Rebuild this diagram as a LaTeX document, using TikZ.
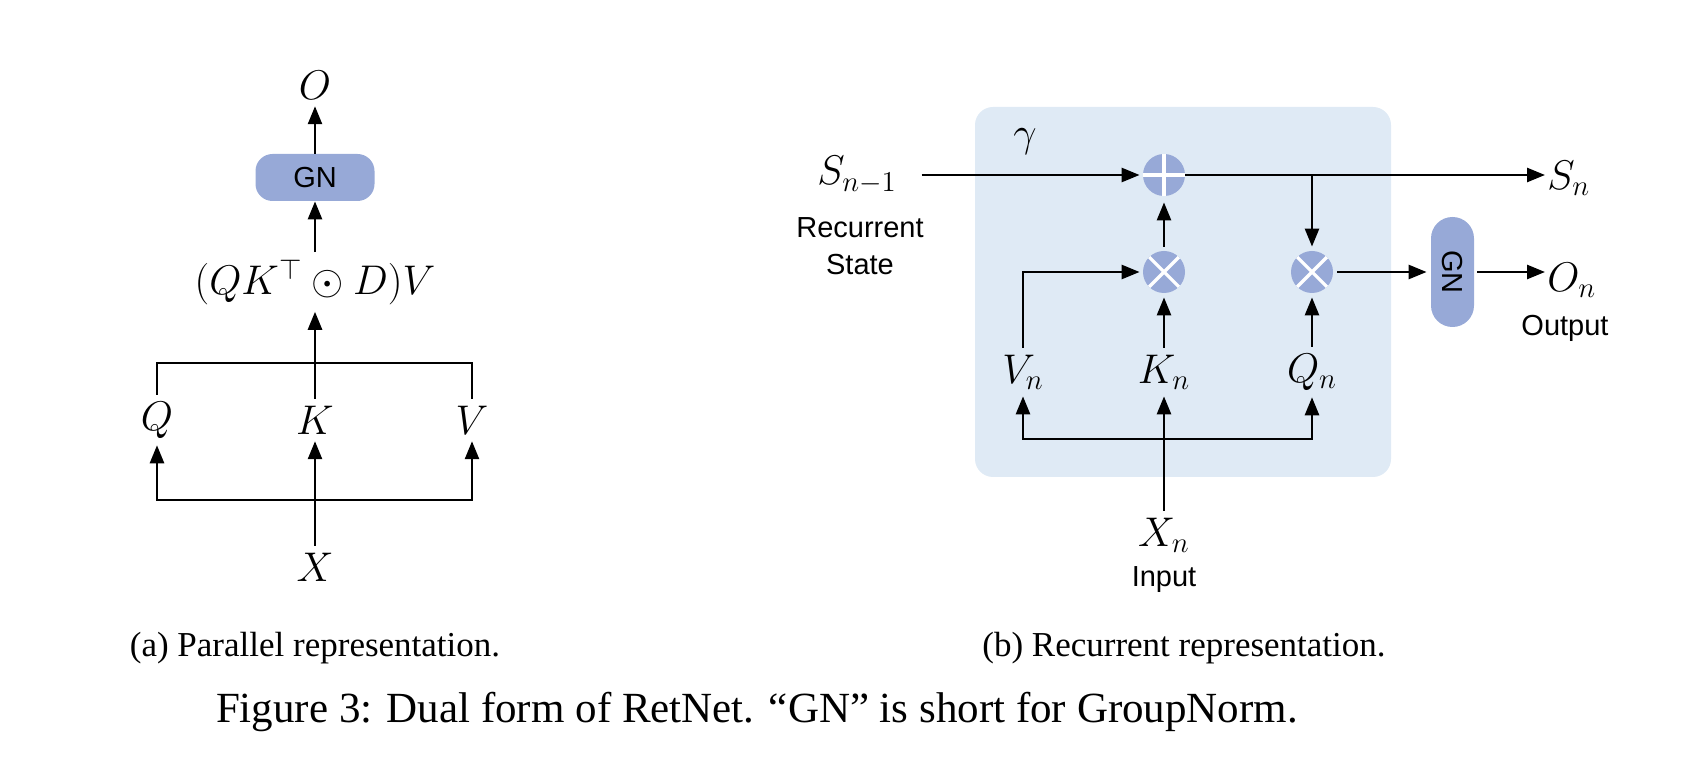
\documentclass[tikz,border=0pt]{standalone}
\usepackage[no-math]{fontspec}
\setmainfont{Liberation Serif}
\setsansfont{Liberation Sans}
\usetikzlibrary{arrows.meta}
\definecolor{panelblue}{HTML}{DFEAF5}
\definecolor{gnblue}{HTML}{97A9D7}
\begin{document}
\begin{tikzpicture}[x=0.5pt,y=-0.5pt]
	\tikzstyle{every node}=[font=\fontsize{20.74}{25}\selectfont]
	\tikzstyle{arr}=[-{Triangle[length=9pt,width=7pt]}, line width=1.3pt]
	\tikzstyle{wire}=[line width=1.3pt]
	\tikzstyle{gnbox}=[fill=gnblue, rounded corners=8.5pt, font=\sffamily\fontsize{14.5}{17}\selectfont, inner sep=0pt]
	\tikzstyle{opcirc}=[circle, fill=gnblue, minimum size=21pt, inner sep=0pt]
	\tikzstyle{sumop}=[opcirc, path picture={\draw[white,line width=1.6pt] (path picture bounding box.north) -- (path picture bounding box.south) (path picture bounding box.west) -- (path picture bounding box.east);}]
	\tikzstyle{mulop}=[opcirc, path picture={\draw[white,line width=1.6pt] (path picture bounding box.north west) -- (path picture bounding box.south east) (path picture bounding box.north east) -- (path picture bounding box.south west);}]
	\tikzstyle{txt}=[font=\sffamily\fontsize{14.5}{18.5}\selectfont, align=center, inner sep=0pt]
	\tikzstyle{captext}=[font=\fontsize{17.5}{21}\selectfont, inner sep=0pt]
	\tikzstyle{outlbl}=[anchor=west, inner xsep=1pt]
	\useasboundingbox (0,0) rectangle (1688,764);

	\draw (315,85) node (o) {$O$};
	\draw (315,177.5) node (gna) [gnbox, minimum width=59.5pt, minimum height=23.5pt] {GN};
	\draw (315,282) node (att) {$(QK^{\top}\odot D)V$};
	\draw (157,420) node (q) {$Q$};
	\draw (315,420) node (k) {$K$};
	\draw (472,420) node (v) {$V$};
	\draw (315,567) node (x) {$X$};
	\coordinate (qkv) at (315,363);
	\coordinate (xsplit) at (315,500);
	\draw[arr] (gna) -- (o);
	\draw[arr] (att) -- (gna);
	\draw[wire] (q) |- (qkv) -| (v);
	\draw[arr] (k) -- (att);
	\draw[arr] (xsplit) -| (q);
	\draw[arr] (xsplit) -| (v);
	\draw[arr] (x) -- (k);

	\fill[panelblue, rounded corners=9pt] (975,107) rectangle (1391,477);
	\draw (857,175) node (sprev) {$S_{n-1}$};
	\draw (860,246) node (recstate) [txt] {Recurrent\\State};
	\draw (1025,142) node (gamma) {$\gamma$};
	\draw (1164,175) node (add) [sumop] {};
	\draw (1164,272) node (mulk) [mulop] {};
	\draw (1312,272) node (mulq) [mulop] {};
	\draw (1023,372) node (vn) {$V_n$};
	\draw (1164,372) node (kn) {$K_n$};
	\draw (1312,372) node (qn) {$Q_n$};
	\draw (1164,535) node (xn) {$X_n$};
	\draw (1164,580) node (input) [txt] {Input};
	\draw (1452.5,272) node (gnb) [gnbox, rotate=-90, minimum width=55pt, minimum height=21.5pt, rounded corners=10.7pt] {GN};
	\draw (1545,178) node (sn) [outlbl] {$S_n$};
	\draw (1545,280) node (on) [outlbl] {$O_n$};
	\draw (1565,328) node (output) [txt] {Output};
	\coordinate (vkq) at (1164,439);
	\coordinate (branch) at (add -| mulq);
	\draw[arr, shorten <=9pt, shorten >=1.5pt] (sprev) -- (add);
	\draw[arr] (add) -- (add -| sn.west);
	\draw[arr, shorten >=2pt] (branch) -- (mulq);
	\draw[arr, shorten <=2pt, shorten >=3pt] (mulk) -- (add);
	\draw[arr, shorten >=1.5pt] (vn) |- (mulk);
	\draw[arr, shorten >=2pt] (kn) -- (mulk);
	\draw[arr, shorten >=2pt] (qn) -- (mulq);
	\draw[arr] (vkq) -| (vn);
	\draw[arr] (vkq) -| (qn);
	\draw[arr] (xn) -- (kn);
	\draw[arr, shorten <=2pt, shorten >=2pt] (mulq) -- (gnb);
	\draw[arr, shorten <=1.5pt] (gnb) -- (gnb -| on.west);

	\draw (315,648) node (capa) [captext] {(a) Parallel representation.};
	\draw (1184,648) node (capb) [captext] {(b) Recurrent representation.};
	\draw (757,712) node (capfig) [captext, font=\fontsize{21.5}{25}\selectfont] {Figure 3: Dual form of RetNet. “GN” is short for GroupNorm.};
\end{tikzpicture}
\end{document}
